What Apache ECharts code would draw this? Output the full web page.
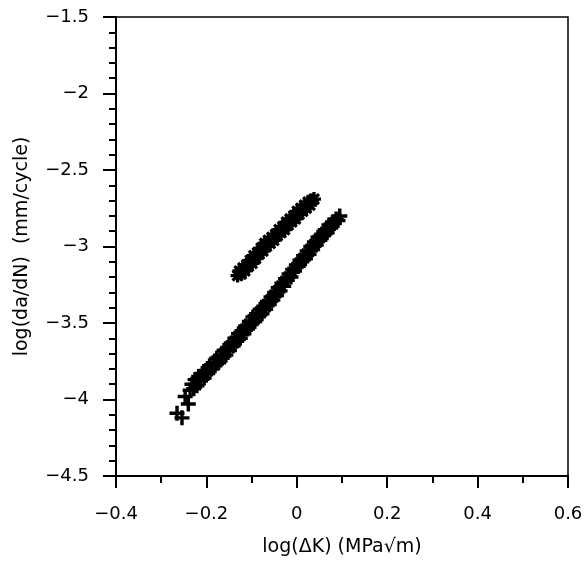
<!DOCTYPE html>
<html>
<head>
<meta charset="utf-8">
<script src="https://cdn.jsdelivr.net/npm/echarts@6/dist/echarts.min.js"></script>
<style>html,body{margin:0;padding:0;background:#fff;}#c{width:586px;height:564px;}</style>
</head>
<body>
<div id="c"></div>
<script>
// Lower series (+ markers): [log(dK), log(da/dN)]
var lowerSeries = [
  [-0.265,-4.09],[-0.254,-4.12],[-0.240,-4.03],[-0.247,-3.98],
  [-0.236,-3.94],[-0.232,-3.90],[-0.228,-3.93],[-0.225,-3.87],[-0.221,-3.91],[-0.217,-3.85],
  [-0.213,-3.88],[-0.209,-3.83],[-0.205,-3.86],[-0.201,-3.81],[-0.197,-3.83],[-0.193,-3.78],
  [-0.189,-3.80],[-0.185,-3.76],[-0.181,-3.78],[-0.177,-3.73],[-0.173,-3.76],[-0.169,-3.71],
  [-0.165,-3.73],[-0.161,-3.68],[-0.157,-3.71],[-0.153,-3.66],[-0.149,-3.68],[-0.145,-3.63],
  [-0.141,-3.65],[-0.137,-3.60],[-0.133,-3.62],[-0.129,-3.57],[-0.125,-3.60],[-0.121,-3.55],
  [-0.117,-3.57],[-0.113,-3.52],[-0.109,-3.54],[-0.105,-3.49],[-0.101,-3.51],[-0.097,-3.46],
  [-0.093,-3.49],[-0.089,-3.44],[-0.085,-3.46],[-0.081,-3.41],[-0.077,-3.44],[-0.073,-3.39],
  [-0.069,-3.41],[-0.065,-3.36],[-0.061,-3.38],[-0.057,-3.33],[-0.053,-3.35],[-0.049,-3.30],
  [-0.045,-3.32],[-0.041,-3.27],[-0.037,-3.29],[-0.033,-3.24],[-0.029,-3.26],[-0.025,-3.21],
  [-0.021,-3.22],[-0.017,-3.18],[-0.013,-3.20],[-0.009,-3.15],[-0.005,-3.16],[-0.001,-3.12],
  [0.003,-3.13],[0.007,-3.09],[0.011,-3.10],[0.015,-3.06],[0.019,-3.08],[0.023,-3.03],
  [0.027,-3.05],[0.031,-3.00],[0.035,-3.02],[0.039,-2.97],[0.043,-2.99],[0.047,-2.94],
  [0.051,-2.96],[0.055,-2.92],[0.059,-2.93],[0.063,-2.89],[0.067,-2.91],[0.071,-2.86],
  [0.075,-2.88],[0.079,-2.84],[0.083,-2.85],[0.087,-2.82],[0.091,-2.83],[0.095,-2.80]
];
// Upper series (* markers)
var upperSeries = [
  [-0.131,-3.19],[-0.127,-3.16],[-0.123,-3.18],[-0.119,-3.14],[-0.115,-3.16],[-0.111,-3.12],
  [-0.107,-3.13],[-0.103,-3.09],[-0.099,-3.11],[-0.095,-3.06],[-0.091,-3.08],[-0.087,-3.04],
  [-0.083,-3.05],[-0.079,-3.01],[-0.075,-3.03],[-0.071,-2.98],[-0.067,-3.00],[-0.063,-2.96],
  [-0.059,-2.98],[-0.055,-2.94],[-0.051,-2.96],[-0.047,-2.92],[-0.043,-2.93],[-0.039,-2.89],
  [-0.035,-2.91],[-0.031,-2.87],[-0.027,-2.89],[-0.023,-2.84],[-0.019,-2.86],[-0.015,-2.82],
  [-0.011,-2.84],[-0.007,-2.80],[-0.003,-2.82],[0.001,-2.77],[0.005,-2.79],[0.009,-2.75],
  [0.013,-2.77],[0.017,-2.73],[0.021,-2.75],[0.025,-2.71],[0.029,-2.73],[0.033,-2.70],[0.038,-2.69]
];
var xTicks = {min: -0.4, max: 0.6, step: 0.2};
var yTicks = {min: -4.5, max: -1.5, step: 0.5};
var xTitle = 'log(\u0394K) (MPa\u221Am)';
var yTitle = 'log(da/dN)  (mm/cycle)';

var FONT = '"DejaVu Sans", sans-serif';
var plusPath = 'path://M5,0H8V5H13V8H8V13H5V8H0V5H5Z';
function fmt(v){
  var r = Math.round(v*10)/10;
  if (r === 0) return '0';
  return String(r).replace('-', '\u2212');
}
var chart = echarts.init(document.getElementById('c'), null, {renderer:'canvas'});
chart.setOption({
  animation: false,
  backgroundColor: '#fff',
  grid: {left:116, right:18, top:17, bottom:88, show:true, borderColor:'#000', borderWidth:1.5, backgroundColor:'transparent'},
  xAxis: {
    type:'value', min:xTicks.min, max:xTicks.max, interval:xTicks.step,
    name:xTitle, nameLocation:'middle', nameGap:62,
    nameTextStyle:{color:'#000', fontSize:19, fontFamily:FONT},
    axisLine:{onZero:false, lineStyle:{color:'#000', width:2}},
    axisTick:{show:true, inside:false, length:12, lineStyle:{color:'#000', width:2}},
    minorTick:{show:true, splitNumber:2, length:7, lineStyle:{color:'#000', width:2}},
    splitLine:{show:false},
    axisLabel:{color:'#000', fontSize:18, fontFamily:FONT, margin:29, formatter:fmt}
  },
  yAxis: {
    type:'value', min:yTicks.min, max:yTicks.max, interval:yTicks.step,
    name:yTitle, nameLocation:'middle', nameGap:84, nameRotate:90,
    nameTextStyle:{color:'#000', fontSize:19, fontFamily:FONT},
    axisLine:{onZero:false, lineStyle:{color:'#000', width:2}},
    axisTick:{show:true, inside:false, length:13, lineStyle:{color:'#000', width:2}},
    minorTick:{show:true, splitNumber:5, length:7, lineStyle:{color:'#000', width:2}},
    splitLine:{show:false},
    axisLabel:{color:'#000', fontSize:18, fontFamily:FONT, margin:27, formatter:fmt}
  },
  series: [
    {type:'scatter', data:lowerSeries, symbol:plusPath, symbolSize:15, itemStyle:{color:'#000', opacity:1}},
    {type:'scatter', data:upperSeries, symbol:plusPath, symbolSize:14, itemStyle:{color:'#000', opacity:1}},
    {type:'scatter', data:upperSeries, symbol:plusPath, symbolSize:14, symbolRotate:45, itemStyle:{color:'#000', opacity:1}}
  ]
});
</script>
</body>
</html>
